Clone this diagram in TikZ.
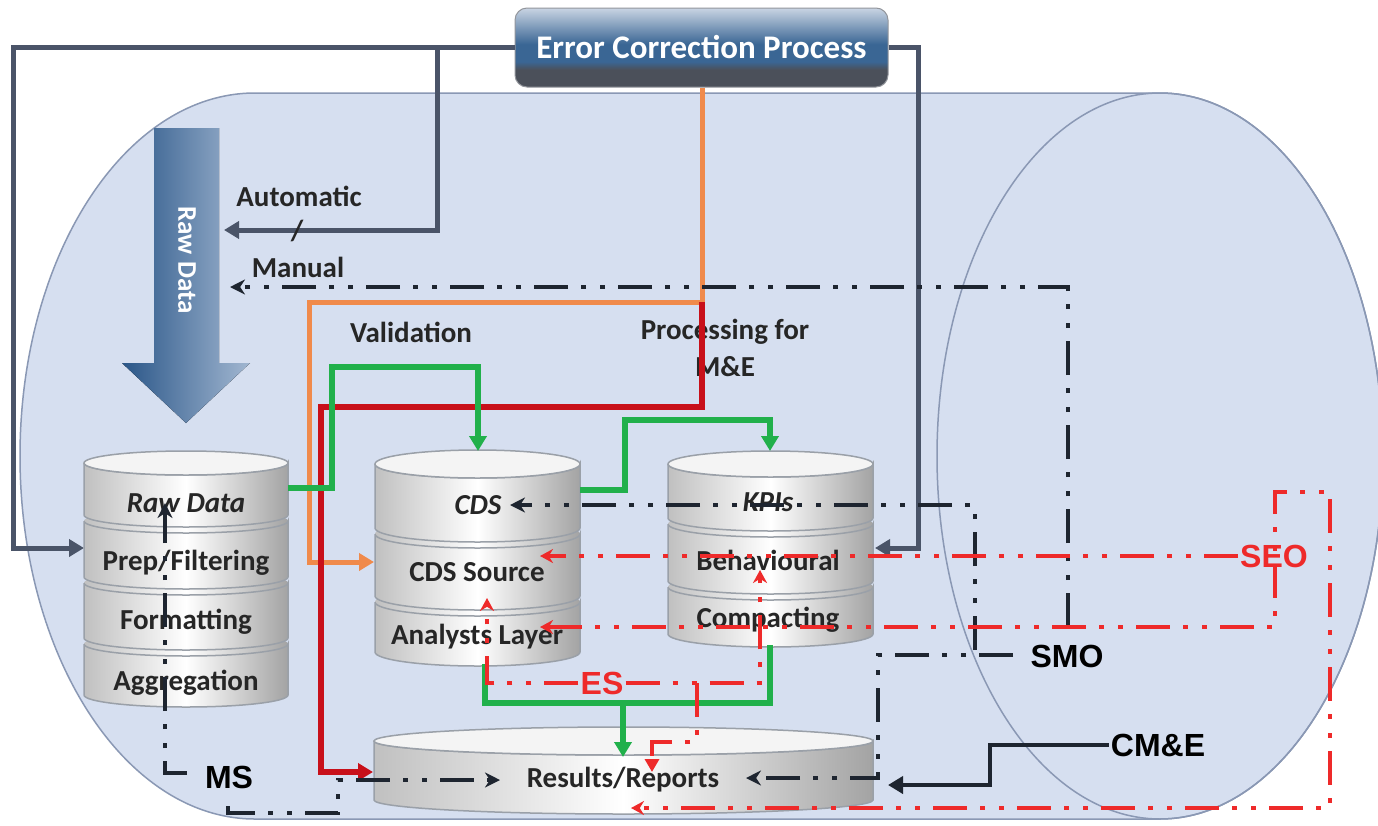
\documentclass[tikz,border=0pt]{standalone}
\usepackage{fontspec}
\setmainfont{Carlito}
\newfontfamily\labfont{Liberation Sans}
\usetikzlibrary{arrows.meta}

\definecolor{bgfill}{HTML}{D6DFF0}
\definecolor{bgline}{HTML}{8A98B4}
\definecolor{slate}{HTML}{4A5468}
\definecolor{grn}{HTML}{21B04B}
\definecolor{org}{HTML}{F08A4B}
\definecolor{dred}{HTML}{C8101A}
\definecolor{lred}{HTML}{EE2A2A}
\definecolor{ink}{HTML}{1E2530}
\definecolor{dbedge}{HTML}{C0C0C0}
\definecolor{dbrim}{HTML}{9AA0A8}
\definecolor{dbtop}{HTML}{F4F4F4}
\definecolor{arrdark}{HTML}{2A5688}
\definecolor{arrlight}{HTML}{A2B7D1}
\definecolor{boxtop}{HTML}{C9D4E3}
\definecolor{boxmid}{HTML}{3A6694}
\definecolor{boxbot}{HTML}{4B505A}

\pgfdeclareverticalshading{ecpshade}{100bp}{color(0bp)=(boxbot); color(36bp)=(boxbot); color(41bp)=(boxmid); color(52bp)=(boxmid); color(75bp)=(boxtop); color(100bp)=(boxtop)}

% one disk of a database stack: left x, right x, top y, bottom y, arc radius
\newcommand\dbdisk[5]{%
  \pgfmathsetmacro\dbrx{(#2-#1)/2}%
  \path[left color=dbedge, right color=dbedge!85!black, middle color=white]
    (#1,#3) -- (#1,#4) arc[start angle=180,end angle=0,x radius=\dbrx,y radius=#5]
    -- (#2,#3) arc[start angle=0,end angle=-180,x radius=\dbrx,y radius=#5] -- cycle;
  \draw[dbrim, line width=1.5pt]
    (#1,#3) -- (#1,#4) arc[start angle=180,end angle=0,x radius=\dbrx,y radius=#5]
    -- (#2,#3) arc[start angle=0,end angle=180,x radius=\dbrx,y radius=#5];
}
% top lid of a database stack: left x, right x, y, arc radius
\newcommand\dbtopcap[4]{%
  \pgfmathsetmacro\dbrx{(#2-#1)/2}%
  \pgfmathsetmacro\dbcx{(#1+#2)/2}%
  \draw[dbrim, line width=1.5pt, fill=dbtop] (\dbcx,#3) ellipse[x radius=\dbrx, y radius=#4];
}

\begin{document}
\begin{tikzpicture}[x=1pt,y=-1pt,
  slateln/.style={draw=slate, line width=5pt},
  grnln/.style={draw=grn, line width=6pt},
  orgln/.style={draw=org, line width=5pt},
  redln/.style={draw=dred, line width=6pt},
  dashdd/.style={line width=4.5pt, dash pattern=on 34pt off 13pt on 5pt off 14pt on 5pt off 13pt},
  inkdash/.style={dashdd, draw=ink},
  reddash/.style={dashdd, draw=lred},
  tri/.style={-{Triangle[length=15pt,width=17pt]}},
  stl/.style={-{Stealth[length=15pt,width=15pt]}},
  rstl/.style={-{Stealth[length=13pt,width=14pt]}},
  dbtext/.style={font=\fontsize{29}{32}\selectfont\bfseries, text=black!85},
  dbital/.style={font=\fontsize{29}{32}\selectfont\bfseries\itshape, text=black!85},
  plain/.style={font=\fontsize{29}{32}\selectfont\bfseries, text=black!85},
  lbl/.style={font=\labfont\bfseries\fontsize{32}{35}\selectfont, inner sep=2pt},
]
\useasboundingbox (0,0) rectangle (1378,825);
\clip (0,0) rectangle (1378,825);
\fill[white] (0,0) rectangle (1378,825);

% horizontal cylinder holding the process
\filldraw[fill=bgfill, draw=bgline, line width=1.5pt]
  (255,93) -- (1160,93) arc[start angle=-90,end angle=90,x radius=223,y radius=363]
  -- (255,819) arc[start angle=90,end angle=270,x radius=235,y radius=363] -- cycle;
\draw[bgline, line width=1.5pt] (1160,456) ellipse[x radius=223, y radius=363];

% error correction box
\node[shading=ecpshade, rounded corners=12pt, minimum width=373pt, minimum height=79pt,
      draw=boxbot!60, line width=1pt, text=white,
      font=\fontsize{33}{36}\selectfont\bfseries] (ecp) at (701.5,47.5) {Error Correction Process};

% feedback paths of the correction process
\coordinate (rawP) at (84,548);
\coordinate (autoTip) at (224,230);
\coordinate (kpiP) at (875,548);
\coordinate (sbr) at (437,47.5);
\draw[slateln, tri] (ecp.west) -- (13,47.5) -- (13,548) -- (rawP);
\draw[slateln, tri] (sbr) -- (437,230) -- (autoTip);
\draw[slateln, tri] (ecp.east) -- (918,47.5) -- (918,548) -- (kpiP);

% raw data inflow arrow
\fill[left color=arrdark, right color=arrlight]
  (154,128) -- (219,128) -- (219,363) -- (250,363) -- (186,423) -- (122,363) -- (154,363) -- cycle;
\node[rotate=-90, text=white, font=\fontsize{27}{30}\selectfont\bfseries] (rawarrow) at (187,260) {Raw Data};

% database stacks
\dbdisk{84}{288}{644}{695}{12}
\dbdisk{84}{288}{583}{638}{12}
\dbdisk{84}{288}{521}{577}{12}
\dbdisk{84}{288}{463}{515}{12}
\dbtopcap{84}{288}{463}{12}

\dbdisk{375}{580}{602}{652}{14}
\dbdisk{375}{580}{534}{596}{14}
\dbdisk{375}{580}{464}{528}{14}
\dbtopcap{375}{580}{464}{14}

\dbdisk{668}{873}{587}{634}{13}
\dbdisk{668}{873}{524}{581}{13}
\dbdisk{668}{873}{464}{518}{13}
\dbtopcap{668}{873}{464}{13}

\dbdisk{374}{873}{741}{800}{14}
\dbtopcap{374}{873}{741}{14}

% texts
\node[dbital] (tRaw) at (186,503) {Raw Data};
\node[dbtext] (tPrep) at (186,563) {Prep/Filtering};
\node[dbtext] (tFmt) at (186,622) {Formatting};
\node[dbtext] (tAgg) at (186,683) {Aggregation};
\node[dbital] (tCDS) at (478,505) {CDS};
\node[dbtext] (tSrc) at (477,572) {CDS Source};
\node[dbtext] (tAna) at (477,637) {Analysts Layer};
\node[dbital] (tKPI) at (768,502) {KPIs};
\node[dbtext] (tBeh) at (768,560) {Behavioural};
\node[dbtext] (tCmp) at (768,620) {Compacting};
\node[dbtext] (tRes) at (623,780) {Results/Reports};

\node[plain] (auto) at (299,196) {Automatic};
\node[plain] (manual) at (298,267) {Manual};
\node[plain] (valid) at (411,332) {Validation};
\node[plain] (proc) at (725,332) {Processing for};
\node[plain] (mande) at (725,367) {M\&E};

% validation / processing flows
\coordinate (ojoin) at (702,302);
\coordinate (cdsL) at (374,562);
\coordinate (resL) at (373,772);
\draw[orgln, tri] (ecp.south -| ojoin) -- (ojoin) -- (309,302) -- (309,562) -- (cdsL);
\draw[redln, tri] (ojoin) -- (702,407) -- (321,407) -- (321,772) -- (resL);

\coordinate (rawR) at (288,488);
\coordinate (cdsT) at (478,451);
\coordinate (cdsR) at (580,490);
\coordinate (kpiT) at (770,451);
\coordinate (cdsB) at (485,664);
\coordinate (kpiB) at (770,645);
\coordinate (gmid) at (623,703);
\coordinate (resT) at (623,757);
\draw[grnln, tri] (rawR) -- (332,488) -- (332,367) -- (478,367) -- (cdsT);
\draw[grnln, tri] (cdsR) -- (625,490) -- (625,420) -- (770,420) -- (kpiT);
\draw[grnln] (cdsB) -- (485,703) -- (770,703) -- (kpiB);
\draw[grnln, tri] (gmid) -- (resT);

% labels of the monitoring loops
\node[lbl] (SMO) at (1067,656) {SMO};
\node[lbl] (CME) at (1158,745) {CM\&E};
\node[lbl, text=lred, fill=bgfill] (SEO) at (1274,556) {SEO};
\node[lbl, text=lred] (ES) at (602,683) {ES};
\node[lbl] (MS) at (229,777) {MS};

% SMO loops
\coordinate (manTip) at (230,287);
\coordinate (cdsTxt) at (510,505);
\coordinate (resR) at (746,778);
\draw[inkdash, stl] (1068,627) -- (1068,287) -- (manTip);
\draw[inkdash, stl] (975,650) -- (975,505) -- (cdsTxt);
\draw[inkdash, stl] (1013,655) -- (878,655) -- (878,778) -- (resR);

% MS loops
\coordinate (rawTxt) at (165,503);
\coordinate (resIn) at (500,780);
\draw[inkdash, stl] (187,773) -- (165,773) -- (rawTxt);
\draw[inkdash, stl] (228,806) -- (228,813) -- (338,813) -- (338,780) -- (resIn);

% CM&E
\coordinate (resRR) at (888,785);
\draw[ink, line width=4pt, tri] (CME.west) -- (990,745) -- (990,785) -- (resRR);

% SEO loops
\coordinate (srcTip) at (540,556);
\coordinate (anaTip) at (540,627);
\coordinate (resBot) at (631,808);
\draw[reddash, rstl] (SEO.west) -- (srcTip);
\draw[reddash, {Stealth[length=13pt,width=14pt]}-{Stealth[length=13pt,width=14pt]}]
  (anaTip) -- (1275,627) -- (1275,492) -- (1330,492) -- (1330,808) -- (resBot);

% ES loops
\coordinate (anaUp) at (487,598);
\coordinate (behUp) at (760,570);
\coordinate (esb) at (697,683);
\coordinate (resMid) at (652,772);
\draw[reddash, rstl] (ES.west) -- (487,683) -- (anaUp);
\draw[reddash, rstl] (ES.east) -- (760,683) -- (behUp);
\draw[reddash, -{Triangle[length=13pt,width=14pt]}] (esb) -- (697,742) -- (652,742) -- (resMid);

% slash between Automatic and Manual
\node[plain] (slash) at (297,231) {/};
\end{tikzpicture}
\end{document}
